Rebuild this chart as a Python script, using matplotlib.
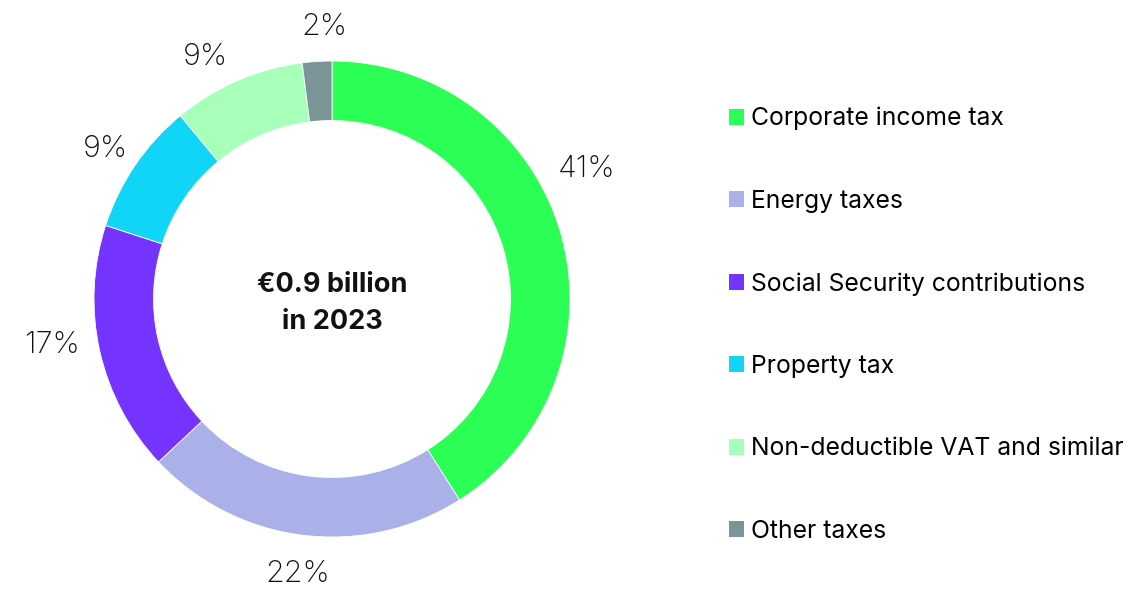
import numpy as np
import matplotlib
matplotlib.use("Agg")
import matplotlib.pyplot as plt
from matplotlib.patches import Patch

categories = [
    "Corporate income tax",
    "Energy taxes",
    "Social Security contributions",
    "Property tax",
    "Non-deductible VAT and similar",
    "Other taxes",
]
shares = [41, 22, 17, 9, 9, 2]
colors = ["#2bff55", "#a9b1e8", "#7433ff", "#10d5f7", "#a8ffba", "#7a9497"]
# small angular nudges (degrees) so labels sit clear of neighbours
label_nudge = [11.5, 0, -4, 0, 4, -2]
label_radius = [1.21, 1.15, 1.19, 1.15, 1.16, 1.16]

center_text = "€0.9 billion\nin 2023"

plt.rcParams["font.family"] = ["Inter", "DejaVu Sans"]

W, H = 1137, 591
fig = plt.figure(figsize=(W / 100, H / 100), dpi=100)
cx, cy, r = 332, 299, 238
ax = fig.add_axes([(cx - r) / W, (H - cy - r) / H, 2 * r / W, 2 * r / H])

wedges, _ = ax.pie(
    shares,
    colors=colors,
    startangle=90,
    counterclock=False,
    radius=1,
    wedgeprops=dict(width=0.25, edgecolor="white", linewidth=0.6),
)
ax.set_xlim(-1, 1)
ax.set_ylim(-1, 1)
ax.set_aspect("equal")
ax.axis("off")

for w, s, nudge, lr in zip(wedges, shares, label_nudge, label_radius):
    ang = np.deg2rad((w.theta1 + w.theta2) / 2 + nudge)
    ax.text(lr * np.cos(ang), lr * np.sin(ang) - 0.015, f"{s}%",
            ha="center", va="center", fontsize=22, fontweight="light",
            color="#111111", clip_on=False)

ax.text(0, -0.017, center_text, ha="center", va="center", fontsize=19.5,
        fontweight="bold", color="#111111", linespacing=1.55)

handles = [Patch(facecolor=c, edgecolor="none") for c in colors]
fig.legend(handles, categories, loc="upper left",
           bbox_to_anchor=(729 / W, 1 - 107 / H), frameon=False,
           fontsize=17.8, labelspacing=2.4, handlelength=0.61,
           handleheight=0.61, handletextpad=0.27, borderaxespad=0,
           borderpad=0)

fig.savefig("out.png", dpi=100)
